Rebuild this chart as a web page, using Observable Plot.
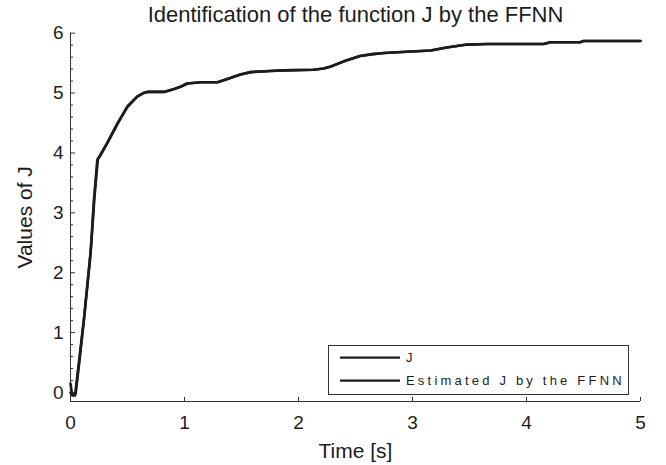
<!DOCTYPE html>
<html>
<head>
<meta charset="utf-8">
<script src="https://cdn.jsdelivr.net/npm/d3@7"></script>
<script src="https://cdn.jsdelivr.net/npm/@observablehq/plot@0.6"></script>
<style>
  html, body { margin: 0; padding: 0; background: #fff; }
  #chart { width: 666px; height: 465px; }
</style>
</head>
<body>
<div id="chart"></div>
<script>
// Reference signal J over time
const timeJ = [0, 0.02, 0.045, 0.08, 0.117, 0.175, 0.205, 0.235, 0.25, 0.32, 0.41, 0.5, 0.585, 0.64, 0.67, 0.82, 0.91, 0.96, 1.02, 1.14, 1.29, 1.37, 1.49, 1.58, 1.75, 1.87, 2.13, 2.22, 2.28, 2.40, 2.54, 2.65, 2.75, 2.95, 3.16, 3.30, 3.48, 3.66, 4.15, 4.21, 4.47, 4.50, 5.00];
const valuesJ = [0, -0.04, -0.02, 0.55, 1.2, 2.3, 3.2, 3.88, 3.93, 4.16, 4.49, 4.77, 4.94, 5.0, 5.02, 5.02, 5.07, 5.1, 5.16, 5.18, 5.18, 5.23, 5.31, 5.35, 5.37, 5.38, 5.39, 5.41, 5.44, 5.53, 5.62, 5.65, 5.67, 5.69, 5.71, 5.76, 5.81, 5.82, 5.82, 5.85, 5.85, 5.87, 5.87];

// Network output estimating J
const timeEst = [0, 0.015, 0.04, 0.07, 0.12, 0.18, 0.21, 0.24, 0.26, 0.33, 0.42, 0.5, 0.59, 0.64, 0.68, 0.82, 0.91, 0.97, 1.03, 1.14, 1.29, 1.37, 1.49, 1.58, 1.75, 1.87, 2.13, 2.22, 2.29, 2.41, 2.54, 2.65, 2.75, 2.95, 3.16, 3.30, 3.48, 3.66, 4.15, 4.21, 4.47, 4.50, 5.00];
const valuesEst = [0.15, -0.05, -0.05, 0.45, 1.26, 2.42, 3.26, 3.9, 3.95, 4.19, 4.51, 4.78, 4.95, 5.0, 5.02, 5.02, 5.07, 5.11, 5.16, 5.18, 5.18, 5.23, 5.31, 5.35, 5.37, 5.38, 5.39, 5.41, 5.45, 5.54, 5.62, 5.65, 5.67, 5.69, 5.71, 5.76, 5.81, 5.82, 5.82, 5.85, 5.85, 5.87, 5.87];

const seriesNames = ["J", "Estimated J by the FFNN"];
const xTicks = [0, 1, 2, 3, 4, 5];
const yTicks = [0, 1, 2, 3, 4, 5, 6];
const yMinorTicks = [0.2, 0.4, 0.6, 0.8, 1.2, 1.4, 1.6, 1.8, 2.2, 2.4, 2.6, 2.8, 3.2, 3.4, 3.6, 3.8, 4.2, 4.4, 4.6, 4.8, 5.2, 5.4, 5.6, 5.8];
const xDomain = [0, 5];
const yDomain = [-0.15, 6];

const titleText = "Identification of the function J by the FFNN";
const xLabel = "Time [s]";
const yLabel = "Values of J";

const ink = "#1c1c1c";
const axisInk = "#333";
const font = "'Liberation Sans', Arial, Helvetica, sans-serif";
const intFormat = d3.format("d");

const rows = [
  ...timeJ.map((t, i) => ({series: seriesNames[0], t, v: valuesJ[i]})),
  ...timeEst.map((t, i) => ({series: seriesNames[1], t, v: valuesEst[i]}))
];

const svg = Plot.plot({
  width: 666,
  height: 465,
  marginLeft: 70,
  marginRight: 26,
  marginTop: 32.7,
  marginBottom: 64,
  style: {fontFamily: font, color: ink, background: "#fff", overflow: "visible"},
  x: {domain: xDomain},
  y: {domain: yDomain},
  marks: [
    Plot.ruleX([xDomain[0]], {stroke: axisInk, strokeWidth: 1}),
    Plot.ruleY([yDomain[0]], {stroke: axisInk, strokeWidth: 1}),
    Plot.axisY(yTicks, {anchor: "left", tickSize: 0, tickPadding: 7, fontSize: 19, label: null, fill: ink, tickFormat: intFormat}),
    Plot.axisY(yTicks, {anchor: "left", tickSize: -5, tickFormat: () => "", label: null, stroke: axisInk}),
    Plot.axisY(yMinorTicks, {anchor: "left", tickSize: -3, tickFormat: () => "", label: null, stroke: axisInk}),
    Plot.axisX(xTicks, {anchor: "bottom", tickSize: 0, tickPadding: 14, fontSize: 19, label: null, fill: ink, tickFormat: intFormat}),
    Plot.axisX(xTicks, {anchor: "bottom", tickSize: -4, tickFormat: () => "", label: null, stroke: axisInk}),
    Plot.line(rows, {x: "t", y: "v", z: "series", stroke: ink, strokeWidth: 2.6, strokeLinejoin: "round"}),
    Plot.text([titleText], {frameAnchor: "top", lineAnchor: "bottom", dy: -11.7, fontSize: 22, fill: ink}),
    Plot.text([xLabel], {frameAnchor: "bottom", lineAnchor: "bottom", dy: 56, fontSize: 21, fill: ink}),
    Plot.text([yLabel], {frameAnchor: "left", textAnchor: "middle", lineAnchor: "bottom", rotate: -90, dx: -39, fontSize: 21, fill: ink})
  ]
});

// Legend box in the lower right of the axes
const legend = d3.select(svg).append("g")
  .attr("font-family", font).attr("font-size", 13).attr("text-anchor", "start");
legend.append("rect")
  .attr("x", 328.5).attr("y", 345.5).attr("width", 300).attr("height", 49)
  .attr("fill", "#fff").attr("stroke", axisInk).attr("stroke-width", 1);
seriesNames.forEach((name, i) => {
  const y = 357.7 + i * 23;
  legend.append("line")
    .attr("x1", 340).attr("x2", 400).attr("y1", y).attr("y2", y)
    .attr("stroke", ink).attr("stroke-width", 2.2);
  legend.append("text")
    .attr("x", 406).attr("y", y + 4.7)
    .attr("fill", ink).attr("letter-spacing", "3.2px")
    .text(name);
});

document.getElementById("chart").appendChild(svg);
</script>
</body>
</html>
